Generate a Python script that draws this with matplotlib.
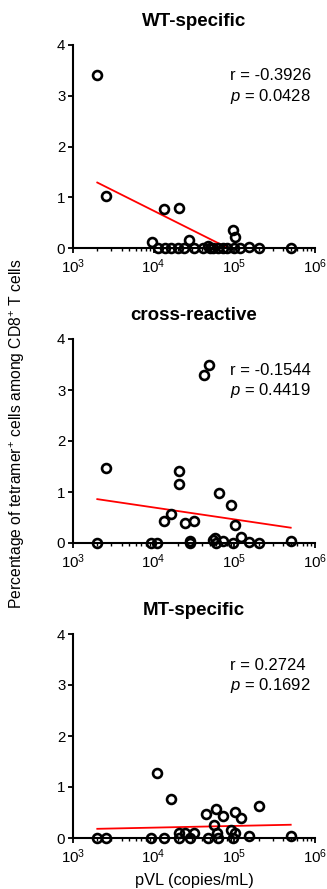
import numpy as np
import matplotlib
matplotlib.use("Agg")
import matplotlib.pyplot as plt
from matplotlib.ticker import LogLocator, FixedLocator, LogFormatterMathtext

plt.rcParams['font.family'] = ['Liberation Sans', 'DejaVu Sans']
plt.rcParams['mathtext.fontset'] = 'custom'
plt.rcParams['mathtext.rm'] = 'Liberation Sans'
plt.rcParams['mathtext.it'] = 'Liberation Sans:italic'
plt.rcParams['mathtext.bf'] = 'Liberation Sans:bold'

# ---------------- data ----------------
titles = ["WT-specific", "cross-reactive", "MT-specific"]

wt_x = [2000, 2600, 9500, 11300, 13300, 14000, 16500, 20700, 20000, 24000,
        27500, 31500, 41000, 47000, 50000, 55000, 63000, 72000, 81000,
        95000, 101600, 98000, 117000, 152000, 200000, 510000]
wt_y = [3.40, 1.03, 0.11, 0.0, 0.77, 0.0, 0.0, 0.79, 0.0, 0.0,
        0.16, 0.0, 0.0, 0.03, 0.0, 0.0, 0.0, 0.0, 0.0,
        0.36, 0.22, 0.0, 0.0, 0.02, 0.0, 0.0]

cr_x = [2000, 2600, 9400, 11000, 13300, 16600, 20700, 20700, 24300, 28000,
        28500, 31500, 42300, 48700, 55000, 57000, 60000, 64300, 72000,
        89800, 101600, 97000, 120000, 152000, 200000, 510000]
cr_y = [0.0, 1.48, 0.0, 0.0, 0.43, 0.56, 1.41, 1.15, 0.40, 0.04,
        0.0, 0.43, 3.30, 3.50, 0.05, 0.10, 0.0, 0.99, 0.04,
        0.75, 0.35, 0.0, 0.12, 0.02, 0.0, 0.04]

mt_x = [2000, 2600, 9400, 11000, 13300, 16600, 20700, 20700, 24300, 28000,
        31500, 44000, 47000, 55700, 59000, 61000, 63000, 72800, 89800,
        95000, 101600, 101600, 120000, 152000, 200000, 510000]
mt_y = [0.0, 0.0, 0.0, 1.28, 0.0, 0.77, 0.10, 0.0, 0.10, 0.0,
        0.10, 0.48, 0.0, 0.26, 0.56, 0.10, 0.0, 0.43, 0.15,
        0.0, 0.51, 0.10, 0.39, 0.04, 0.63, 0.04]

# regression line end points (x in copies/mL, y in %)
fit_x = [2000, 500000]
wt_fit = [1.29, -0.62]
cr_fit = [0.86, 0.30]
mt_fit = [0.18, 0.26]

r_vals = ["-0.3926", "-0.1544", "0.2724"]
p_vals = ["0.0428", "0.4419", "0.1692"]

yticks = [0, 1, 2, 3, 4]
xticks = [1e3, 1e4, 1e5, 1e6]

series = [(wt_x, wt_y, wt_fit), (cr_x, cr_y, cr_fit), (mt_x, mt_y, mt_fit)]

# ---------------- figure ----------------
W, H = 327, 889
fig = plt.figure(figsize=(W / 100, H / 100), dpi=100)

panels_px = [(45, 248), (339, 543), (634, 838)]  # top, bottom pixel rows
left_px, right_px = 73, 315

for i, ((top, bot), (xs, ys, fy)) in enumerate(zip(panels_px, series)):
    ax = fig.add_axes([left_px / W, 1 - bot / H, (right_px - left_px) / W, (bot - top) / H])
    ax.set_xscale('log')
    ax.set_xlim(1e3, 1e6)
    ax.set_ylim(0, 4)
    ax.plot(fit_x, fy, color='#ff0000', lw=1.3, zorder=2, clip_on=True)
    ax.plot(xs, ys, linestyle='none', marker='o', ms=6.4, mfc='none',
            mec='black', mew=1.9, clip_on=False, zorder=3)
    for s in ['top', 'right']:
        ax.spines[s].set_visible(False)
    for s in ['left', 'bottom']:
        ax.spines[s].set_linewidth(1.5)
    ax.xaxis.set_major_locator(FixedLocator(xticks))
    ax.xaxis.set_major_formatter(LogFormatterMathtext())
    ax.xaxis.set_minor_locator(LogLocator(base=10, subs=np.arange(2, 10), numticks=20))
    ax.yaxis.set_major_locator(FixedLocator(yticks))
    ax.tick_params(axis='both', which='major', direction='out', length=3.5, width=1.3,
                   labelsize=10.8, pad=2)
    ax.tick_params(axis='x', which='major', pad=3)
    ax.tick_params(axis='x', which='minor', direction='out', length=2.2, width=1.0)
    ax.set_title(titles[i], fontsize=13.5, fontweight='bold', pad=14)
    ax.text(0.649, 0.848, "r = " + r_vals[i], transform=ax.transAxes,
            fontsize=12, ha='left', va='center')
    ax.text(0.649, 0.748, r"$\it{p}$ = " + p_vals[i], transform=ax.transAxes,
            fontsize=12, ha='left', va='center')
    if i == 2:
        ax.set_xlabel("pVL (copies/mL)", fontsize=11.8, labelpad=5)

fig.text(17 / W, 1 - 434 / H, "Percentage of tetramer$^{+}$ cells among CD8$^{+}$ T cells",
         rotation=90, ha='center', va='center', fontsize=11.3)

fig.savefig("out.png", dpi=100)
